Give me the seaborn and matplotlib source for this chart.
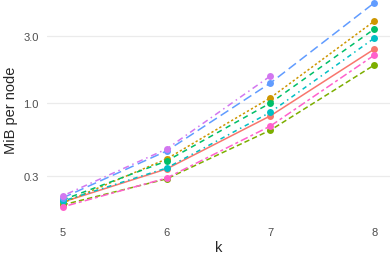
import matplotlib
matplotlib.use('Agg')
import matplotlib.pyplot as plt
import numpy as np
import pandas as pd
import seaborn as sns
from matplotlib.ticker import FixedLocator, NullLocator

##
k = [5, 6, 7, 8]
series = ['s1', 's2', 's3', 's4', 's5', 's6', 's7', 's8']
colors = ['#F8766D', '#CD9600', '#7CAE00', '#00BE67',
          '#00BFC4', '#619CFF', '#D277F0', '#FF61CC']

mib = {
    's1': [0.196, 0.338, 0.81, 2.43],
    's2': [0.193, 0.398, 1.09, 3.85],
    's3': [0.187, 0.287, 0.64, 1.87],
    's4': [0.203, 0.385, 1.00, 3.38],
    's5': [0.199, 0.343, 0.86, 2.91],
    's6': [0.210, 0.454, 1.39, 5.20],
    's7': [0.217, 0.469, 1.56, np.nan],
    's8': [0.181, 0.291, 0.685, 2.20],
    }

dash_styles = {
    's1': '',
    's2': (1.5, 1.5),
    's3': (3.5, 2),
    's4': (3.5, 3),
    's5': (1, 2.5, 3, 2.5),
    's6': (6, 3),
    's7': (1, 2.5, 4, 2.5),
    's8': (2, 2, 5, 2),
    }

##
rows = []
for s in series :
  for kk, v in zip(k, mib[s]) :
    rows.append({'k': kk, 'mib': v, 'series': s})
df = pd.DataFrame(rows).dropna()

##
sns.set_style('white')
plt.rcParams['font.family'] = ['Liberation Sans', 'DejaVu Sans']

fig = plt.figure(figsize=(3.9, 2.55), dpi=100)
ax = fig.add_axes([47 / 390, 35 / 255, 343 / 390, 220 / 255])

sns.lineplot(data=df, x='k', y='mib', hue='series', style='series',
             hue_order=series, style_order=series,
             palette=dict(zip(series, colors)),
             dashes=dash_styles, markers={s: 'o' for s in series},
             markersize=5, markeredgewidth=0, linewidth=1.1,
             legend=False, ax=ax)

for ln in ax.lines :
  ln.set_clip_on(False)

##
ax.set_yscale('log')
ax.set_ylim(10 ** (-116 / 140), 10 ** (104 / 140))
ax.set_xlim(4.85, 8.15)
ax.yaxis.set_major_locator(FixedLocator([0.3, 1.0, 3.0]))
ax.yaxis.set_minor_locator(NullLocator())
ax.set_yticklabels(['0.3', '1.0', '3.0'])
ax.set_xticks(k)

ax.grid(axis='y', color='#EBEBEB', linewidth=0.9)
ax.grid(axis='x', visible=False)
for sp in ax.spines.values() :
  sp.set_visible(False)

ax.tick_params(length=0, labelsize=8, labelcolor='#4D4D4D', pad=6)
ax.set_xlabel('k', fontsize=10.5, labelpad=2)
ax.set_ylabel('MiB per node', fontsize=10.5, labelpad=4)

plt.savefig('out.png', dpi=100)
